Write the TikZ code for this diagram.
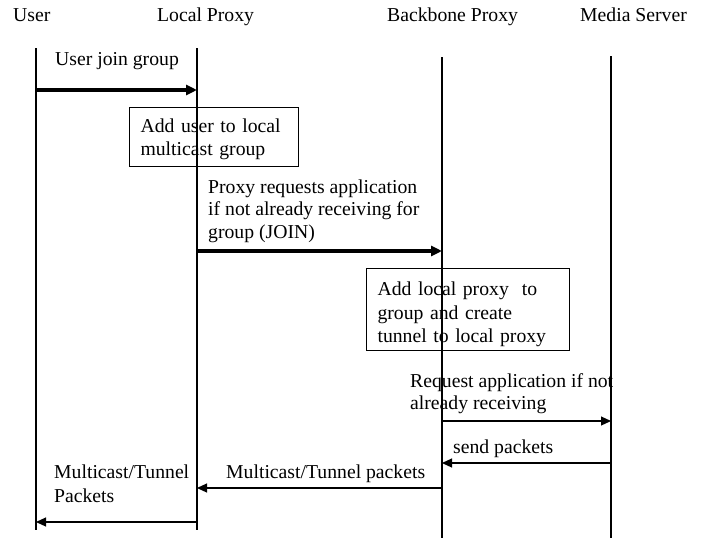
\documentclass[tikz,border=0pt]{standalone}
\usepackage{fontspec}
\setmainfont{Liberation Serif}
\usetikzlibrary{arrows.meta}
\newcommand\mylines[1]{\begin{tabular}[t]{@{}l@{}}#1\end{tabular}}
\begin{document}
\begin{tikzpicture}[x=1pt,y=-1pt,
  lbl/.style={inner sep=0pt,anchor=base west,font=\fontsize{19.7}{22.5}\selectfont},
  life/.style={line width=1.1pt},
  thickmsg/.style={line width=3.5pt,-{Triangle[length=11pt,width=10pt]}},
  thinmsg/.style={line width=1.1pt,-{Triangle[length=10pt,width=9pt]}},
  actbox/.style={draw,line width=1.1pt,anchor=north west,inner xsep=11pt,inner ysep=0pt,align=left,font=\fontsize{19.7}{23}\selectfont}]
\useasboundingbox (0,0) rectangle (704,538);
% headers
\node[lbl] (hU) at (13,21) {User};
\node[lbl] (hL) at (157,21) {Local Proxy};
\node[lbl] (hB) at (387,21) {Backbone Proxy};
\node[lbl] (hM) at (580,21) {Media Server};
% lifelines
\coordinate (uT) at (36,48);  \coordinate (uB) at (36,530);
\coordinate (lT) at (197,48); \coordinate (lB) at (197,530);
\coordinate (bT) at (442,57); \coordinate (bB) at (442,538);
\coordinate (mT) at (611,56); \coordinate (mB) at (611,538);
\draw[life] (uT) -- (uB);
\draw[life] (lT) -- (lB);
\draw[life] (bT) -- (bB);
\draw[life] (mT) -- (mB);
% message end points
\coordinate (m1s) at (36,90);   \coordinate (m1e) at (197,90);
\coordinate (m2s) at (197,251); \coordinate (m2e) at (442,251);
\coordinate (m3s) at (442,421); \coordinate (m3e) at (611,421);
\coordinate (m4s) at (611,463); \coordinate (m4e) at (442,463);
\coordinate (m5s) at (442,488); \coordinate (m5e) at (197,488);
\coordinate (m6s) at (197,522); \coordinate (m6e) at (36,522);
% messages
\draw[thickmsg] (m1s) -- (m1e);
\node[lbl] (t1) at (55,65) {User join group};
\node[actbox,minimum width=169pt,minimum height=59pt,text width=147pt] (box1) at (129,107)
  {\mylines{\rule{0pt}{25pt}Add user to local\\multicast group\rule[-11pt]{0pt}{11pt}}};
\node[lbl] (t2) at (208,193) {\mylines{Proxy requests application\\if not already receiving for\\group (JOIN)}};
\draw[thickmsg] (m2s) -- (m2e);
\node[actbox,font=\fontsize{19.7}{23.5}\selectfont,minimum width=203pt,minimum height=82pt,text width=181pt] (box2) at (366,268)
  {\mylines{\rule{0pt}{27pt}Add local proxy\ \ to\\group and create\\tunnel to local proxy\rule[-8pt]{0pt}{8pt}}};
\node[lbl,font=\fontsize{19.7}{22}\selectfont] (t3) at (410,387) {\mylines{Request application if not\\already receiving}};
\draw[thinmsg] (m3s) -- (m3e);
\node[lbl] (t4) at (453,453) {send packets};
\draw[thinmsg] (m4s) -- (m4e);
\node[lbl] (t5) at (226,478) {Multicast/Tunnel packets};
\draw[thinmsg] (m5s) -- (m5e);
\node[lbl,font=\fontsize{19.7}{24}\selectfont] (t6) at (54,478) {\mylines{Multicast/Tunnel\\Packets}};
\draw[thinmsg] (m6s) -- (m6e);
\end{tikzpicture}
\end{document}
